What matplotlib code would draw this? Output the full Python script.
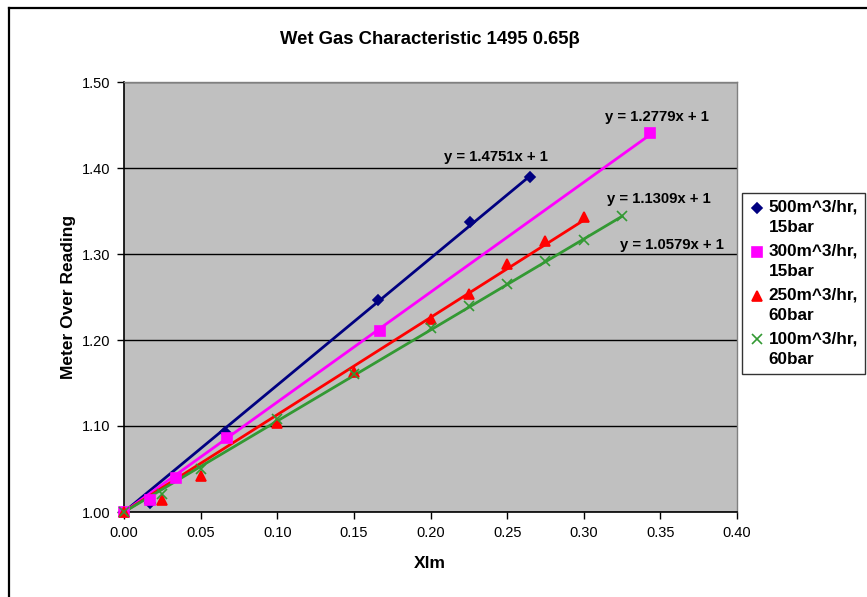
import matplotlib
matplotlib.use("Agg")
import matplotlib.pyplot as plt
from matplotlib.lines import Line2D
from matplotlib.legend_handler import HandlerLine2D
import numpy as np

plt.rcParams['font.family'] = ['Liberation Sans', 'DejaVu Sans']

# Data
x500 = [0.0, 0.017, 0.066, 0.166, 0.226, 0.265]
y500 = [1.000, 1.011, 1.093, 1.246, 1.337, 1.389]
x300 = [0.0, 0.017, 0.034, 0.067, 0.167, 0.343]
y300 = [1.000, 1.014, 1.039, 1.086, 1.210, 1.441]
x250 = [0.0, 0.025, 0.05, 0.10, 0.15, 0.20, 0.225, 0.25, 0.275, 0.30]
y250 = [1.000, 1.014, 1.042, 1.104, 1.163, 1.224, 1.253, 1.288, 1.315, 1.343]
x100 = [0.0, 0.025, 0.05, 0.10, 0.15, 0.20, 0.225, 0.25, 0.275, 0.30, 0.325]
y100 = [1.000, 1.021, 1.050, 1.108, 1.160, 1.214, 1.239, 1.265, 1.292, 1.316, 1.344]
slopes = [1.4751, 1.2779, 1.1309, 1.0579]
labels = ["500m^3/hr,\n15bar", "300m^3/hr,\n15bar", "250m^3/hr,\n60bar", "100m^3/hr,\n60bar"]
eq_pos = [(0.2427, 1.413), (0.3478, 1.459), (0.349, 1.364), (0.3576, 1.3105)]
xticks = [0.00, 0.05, 0.10, 0.15, 0.20, 0.25, 0.30, 0.35, 0.40]
yticks = [1.00, 1.10, 1.20, 1.30, 1.40, 1.50]

colors = ['#000080', '#FF00FF', '#FF0000', '#339933']
markers = ['D', 's', '^', 'x']
msizes = [5, 7, 7, 7]


class TopHandler(HandlerLine2D):
    def create_artists(self, legend, orig_handle, xdescent, ydescent, width,
                       height, fontsize, trans):
        arts = super().create_artists(legend, orig_handle, xdescent, ydescent,
                                      width, height, fontsize, trans)
        for a in arts:
            a.set_ydata(np.asarray(a.get_ydata()) + 0.58 * fontsize)
        return arts


fig = plt.figure(figsize=(8.67, 5.97), dpi=100)
W, H = 867, 597
ax = fig.add_axes([124 / W, 1 - 512 / H, (737 - 124) / W, (512 - 82) / H])
ax.set_facecolor('#C0C0C0')

series = [(x500, y500), (x300, y300), (x250, y250), (x100, y100)]
handles = []
for (xs, ys), m, c, mk, ms, lab in zip(series, slopes, colors, markers, msizes, labels):
    xs = np.array(xs)
    h, = ax.plot(xs, ys, linestyle='none', marker=mk, color=c, markersize=ms,
                 markeredgewidth=1.2, label=lab, zorder=3, clip_on=False)
    xf = np.array([0, xs.max()])
    ax.plot(xf, m * xf + 1, color=c, lw=2, zorder=2)
    handles.append(h)

for (ex, ey), m in zip(eq_pos, slopes):
    ax.text(ex, ey, f"y = {m}x + 1", ha='center', va='center', fontsize=10.7,
            fontweight='bold', color='black')

ax.set_xlim(0, 0.40)
ax.set_ylim(1.0, 1.5)
ax.set_xticks(xticks)
ax.set_yticks(yticks)
ax.set_xticklabels([f"{v:.2f}" for v in xticks], fontsize=10.5)
ax.set_yticklabels([f"{v:.2f}" for v in yticks], fontsize=10.5)
ax.grid(axis='y', color='black', lw=1, zorder=1)
ax.set_axisbelow(True)
ax.tick_params(direction='out', length=5, width=1, color='black', pad=5)
for s in ['left', 'bottom']:
    ax.spines[s].set_color('black')
    ax.spines[s].set_linewidth(1.2)
for s in ['top', 'right']:
    ax.spines[s].set_color('#808080')
    ax.spines[s].set_linewidth(1)

fig.text(430 / W, 1 - 563 / H, "Xlm", ha='center', va='center',
         fontsize=12.5, fontweight='bold')
fig.text(68 / W, 1 - 297 / H, "Meter Over Reading", ha='center', va='center',
         rotation=90, fontsize=12.5, fontweight='bold')
fig.text(430 / W, 1 - 39 / H, "Wet Gas Characteristic 1495 0.65β", ha='center',
         va='center', fontsize=13.3, fontweight='bold')

leg = fig.legend(handles=handles, loc='upper left', bbox_to_anchor=(742 / W, 1 - 193 / H),
                 frameon=True, fancybox=False, edgecolor='black',
                 prop={'weight': 'bold', 'size': 12.3}, handletextpad=0.25,
                 handlelength=0.9, borderpad=0.4, labelspacing=0.5, borderaxespad=0,
                 handler_map={Line2D: TopHandler()})
leg.get_frame().set_linewidth(1)
for t in leg.get_texts():
    t.set_linespacing(1.45)

# outer frame (left and top edges visible)
fig.add_artist(Line2D([9 / W, 9 / W], [0, 1 - 8 / H], transform=fig.transFigure,
                      color='black', lw=1.6))
fig.add_artist(Line2D([9 / W, 1], [1 - 8 / H, 1 - 8 / H], transform=fig.transFigure,
                      color='black', lw=1.6))

fig.savefig("out.png", dpi=100)
